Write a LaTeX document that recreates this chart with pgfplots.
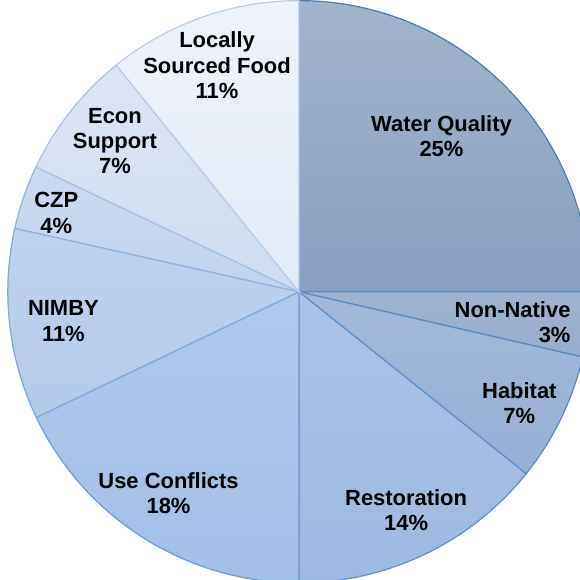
\documentclass[border=0pt]{standalone}
\usepackage{pgfplots}
\pgfplotsset{compat=1.18}
\usepackage{fontspec}
\setmainfont{Liberation Sans}
% slice colours (top / bottom / edge)
\definecolor{wqT}{HTML}{A2B3CC}\definecolor{wqB}{HTML}{8AA0BF}\definecolor{wqE}{HTML}{4E7DB0}
\definecolor{nnT}{HTML}{A0B3CF}\definecolor{nnB}{HTML}{98ADCC}\definecolor{nnE}{HTML}{5B8BC0}
\definecolor{haT}{HTML}{A4B9D9}\definecolor{haB}{HTML}{96AFD3}\definecolor{haE}{HTML}{5B8BC0}
\definecolor{reT}{HTML}{AAC2E5}\definecolor{reB}{HTML}{9EB9E0}\definecolor{reE}{HTML}{5F91CC}
\definecolor{ucT}{HTML}{AFC8EA}\definecolor{ucB}{HTML}{A2BFE6}\definecolor{ucE}{HTML}{6D9CD4}
\definecolor{niT}{HTML}{C0D3EE}\definecolor{niB}{HTML}{B3CAE8}\definecolor{niE}{HTML}{80A9DA}
\definecolor{czT}{HTML}{CCDAF0}\definecolor{czB}{HTML}{C2D4EE}\definecolor{czE}{HTML}{93B4DF}
\definecolor{ecT}{HTML}{DCE5F4}\definecolor{ecB}{HTML}{D0DCF0}\definecolor{ecE}{HTML}{A9C2E3}
\definecolor{loT}{HTML}{EEF2FA}\definecolor{loB}{HTML}{E2EAF6}\definecolor{loE}{HTML}{B9CDE8}
\tikzset{lbl/.style={font=\bfseries\fontsize{10.85}{12.5}\selectfont, align=center, text=black, inner sep=0pt}}
% #1 start (%), #2 end (%), #3 top colour, #4 bottom colour, #5 edge colour
\newcommand{\slice}[5]{%
  \shadedraw[top color=#3, bottom color=#4, draw=#5, line width=0.6pt]
    (axis cs:299,285) -- (axis cs:{299+288*cos(90-3.6*#1)},{285+288*sin(90-3.6*#1)})
    arc[start angle={90-3.6*#1}, end angle={90-3.6*#2}, radius=144pt] -- cycle;}
\begin{document}
\begin{tikzpicture}
\begin{axis}[
  width=288.5pt, height=290pt, scale only axis,
  xmin=0, xmax=577, ymin=0, ymax=580,
  hide axis, clip=true,
]
% shares of the pie, in per cent (start, end)
\slice{0}{25.0}{wqT}{wqB}{wqE}      % Water Quality
\slice{25.0}{28.6}{nnT}{nnB}{nnE}   % Non-Native
\slice{28.6}{35.75}{haT}{haB}{haE}  % Habitat
\slice{35.75}{50.0}{reT}{reB}{reE}  % Restoration
\slice{50.0}{67.9}{ucT}{ucB}{ucE}   % Use Conflicts
\slice{67.9}{78.5}{niT}{niB}{niE}   % NIMBY
\slice{78.5}{82.05}{czT}{czB}{czE}  % CZP
\slice{82.05}{89.2}{ecT}{ecB}{ecE}  % Econ Support
\slice{89.2}{100}{loT}{loB}{loE}    % Locally Sourced Food
\node[lbl] at (axis cs:440,439) {Water Quality\\25\%};
\node[lbl, anchor=east, align=right] at (axis cs:568,255) {Non-Native\\3\%};
\node[lbl] at (axis cs:517,175) {Habitat\\7\%};
\node[lbl] at (axis cs:405,69) {Restoration\\14\%};
\node[lbl] at (axis cs:170,86) {Use Conflicts\\18\%};
\node[lbl] at (axis cs:66,256) {NIMBY\\11\%};
\node[lbl] at (axis cs:59,363) {CZP\\4\%};
\node[lbl] at (axis cs:117,434) {Econ\\Support\\7\%};
\node[lbl] at (axis cs:218,509) {Locally\\Sourced Food\\11\%};
\end{axis}
\end{tikzpicture}
\end{document}
